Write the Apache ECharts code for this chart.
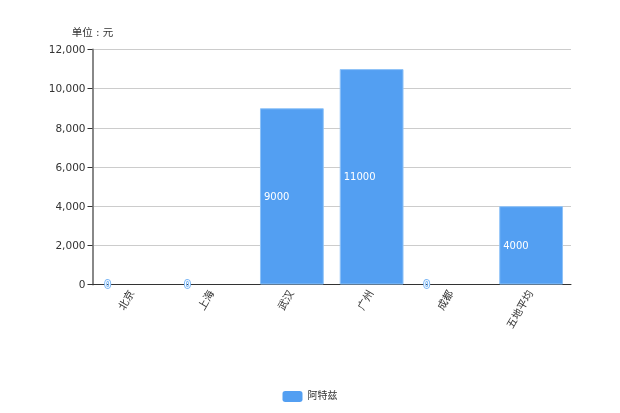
<!DOCTYPE html>
<html>
<head>
<meta charset="utf-8">
<style>
    html, body { margin: 0; padding: 0; background: #fff; }
    #chart { width: 620px; height: 413px; }
</style>
<script src="https://cdn.jsdelivr.net/npm/echarts@6/dist/echarts.min.js"></script>
</head>
<body>
<div id="chart"></div>
<script>
    const categories = ['北京', '上海', '武汉', '广州', '成都', '五地平均']
    const seriesName = '阿特兹'
    const values = [0, 0, 9000, 11000, 0, 4000]
    const fontFamily = '"DejaVu Sans", "Noto Sans CJK SC", sans-serif'

    const chart = echarts.init(document.getElementById('chart'))
    chart.setOption({
        animation: false,
        textStyle: { fontFamily: fontFamily },
        grid: { left: 92.5, right: 49, top: 49.5, bottom: 128.5 },
        legend: {
            data: [seriesName],
            bottom: 6,
            left: 'center',
            itemWidth: 20,
            itemHeight: 11,
            itemGap: 5,
            itemStyle: { borderWidth: 0 },
            textStyle: { color: '#333', fontSize: 10, fontFamily: fontFamily }
        },
        xAxis: {
            type: 'category',
            data: categories,
            axisLine: { lineStyle: { color: '#333', width: 1 } },
            axisTick: { show: false },
            axisLabel: { rotate: 60, color: '#333', fontSize: 10.5, interval: 0, margin: 7 }
        },
        yAxis: {
            type: 'value',
            name: '单位 : 元',
            nameLocation: 'end',
            nameGap: 11,
            nameTextStyle: { color: '#333', fontSize: 10.5, align: 'center' },
            min: 0,
            max: 12000,
            interval: 2000,
            axisLine: { show: true, lineStyle: { color: '#888', width: 2 } },
            axisTick: { show: true, length: 5, lineStyle: { color: '#333' } },
            axisLabel: {
                margin: 7,
                //用rich把刻度文字往下挪1px
                formatter: v => '{tick|' + v.toLocaleString('en-US') + '}',
                rich: {
                    tick: { color: '#333', fontSize: 10.5, padding: [2, 0, 0, 0] }
                }
            },
            splitLine: { lineStyle: { color: '#ccc', width: 1 } }
        },
        series: [{
            name: seriesName,
            type: 'bar',
            //0值的柱子不画边框，数字描边用浅色
            data: values.map(v => v === 0
                ? { value: v, itemStyle: { borderWidth: 0 }, label: { textBorderColor: '#7db8f6' } }
                : v),
            barWidth: '80%',
            itemStyle: { color: '#539ff2', borderColor: '#8fc3f8', borderWidth: 1 },
            label: {
                show: true,
                position: 'insideLeft',
                offset: [-1, 1],
                color: '#fff',
                fontSize: 10,
                textBorderColor: '#539ff2',
                textBorderWidth: 2
            }
        }]
    })
</script>
</body>
</html>
